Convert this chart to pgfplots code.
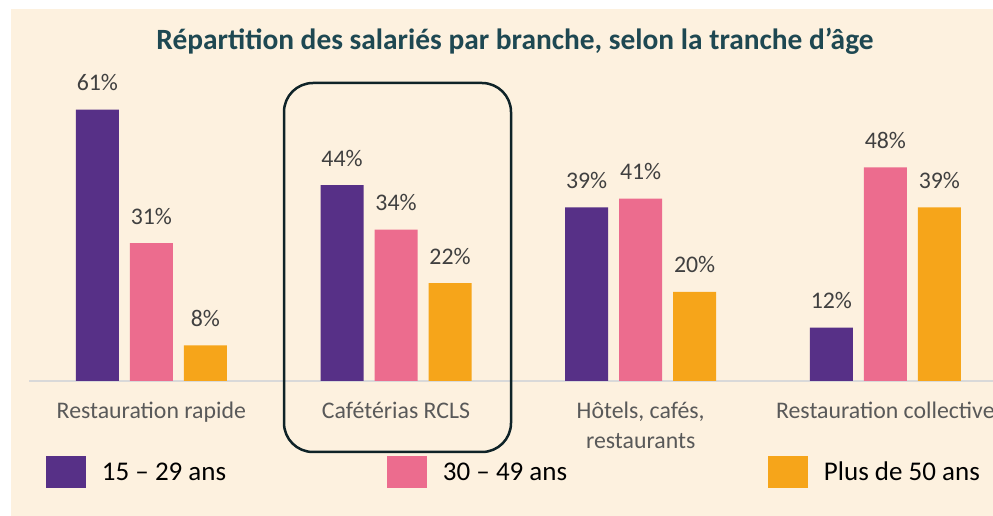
\documentclass[border=0pt]{standalone}
\usepackage{pgfplots}
\pgfplotsset{compat=1.18}
\usepackage{fontspec}
\setmainfont{Carlito}
\definecolor{bg}{HTML}{FDF1DF}
\definecolor{titlec}{HTML}{1E4852}
\definecolor{purp}{HTML}{573087}
\definecolor{pinkc}{HTML}{EC6C8E}
\definecolor{orac}{HTML}{F6A51A}
\definecolor{labc}{HTML}{404040}
\definecolor{tickc}{HTML}{595959}
\definecolor{axisc}{HTML}{D9D9D9}
\definecolor{boxc}{HTML}{0F2328}
\begin{document}
\begin{tikzpicture}[x=1pt,y=1pt]
\fill[bg] (11,0) rectangle (993,507);
\node[font=\bfseries\fontsize{29.4}{32}\selectfont, text=titlec, anchor=base] at (515,466) {Répartition des salariés par branche, selon la tranche d’âge};
\begin{axis}[
  at={(29pt,135pt)}, anchor=south west,
  scale only axis, width=964pt, height=289.25pt,
  xmin=-0.5, xmax=3.44, ymin=0, ymax=65,
  ybar=11pt, bar width=43pt,
  axis x line=bottom, axis y line=none,
  x axis line style={draw=axisc, line width=2pt, -},
  xtick={0,1,2,3},
  xticklabels={Restauration rapide, Cafétérias RCLS, {Hôtels, cafés,\\restaurants}, Restauration collective},
  major tick length=0pt,
  xticklabel style={font=\fontsize{23.8}{30}\selectfont, text=tickc, align=center, anchor=north, inner sep=0pt, yshift=-21pt},
  /pgf/number format/assume math mode=true,
  nodes near coords={\pgfmathprintnumber{\pgfplotspointmeta}\%},
  every node near coord/.append style={font=\fontsize{23.8}{28}\selectfont, text=labc, anchor=base, inner sep=0pt, yshift=19pt},
  clip=false,
  legend columns=3,
  legend style={at={(0.01763,-0.3146)}, anchor=west, draw=none, fill=none, inner sep=0pt, outer sep=0pt,
    nodes={inner sep=0pt, text=black, font=\fontsize{27}{30}\selectfont},
    /tikz/every even column/.style={column sep=0pt}, /tikz/every odd column/.style={column sep=0pt}, column sep=0pt},
]
\addplot[fill=purp, draw=none, legend image code/.code={\fill[purp] (0pt,-16pt) rectangle (40pt,16pt);}] coordinates {(0,61) (1,44) (2,39) (3,12)};
\addlegendentry{\hspace*{16pt}\makebox[285pt][l]{15 – 29 ans}}
\addplot[fill=pinkc, draw=none, legend image code/.code={\fill[pinkc] (0pt,-16pt) rectangle (40pt,16pt);}] coordinates {(0,31) (1,34) (2,41) (3,48)};
\addlegendentry{\hspace*{16pt}\makebox[325pt][l]{30 – 49 ans}}
\addplot[fill=orac, draw=none, legend image code/.code={\fill[orac] (0pt,-16pt) rectangle (40pt,16pt);}] coordinates {(0,8) (1,22) (2,20) (3,39)};
\addlegendentry{\hspace*{16pt}Plus de 50 ans}
\end{axis}
\draw[boxc, line width=2.5pt, rounded corners=29pt] (284,64) rectangle (511,433);
\pgfresetboundingbox
\path[use as bounding box] (0,0) rectangle (993,516);
\end{tikzpicture}
\end{document}
